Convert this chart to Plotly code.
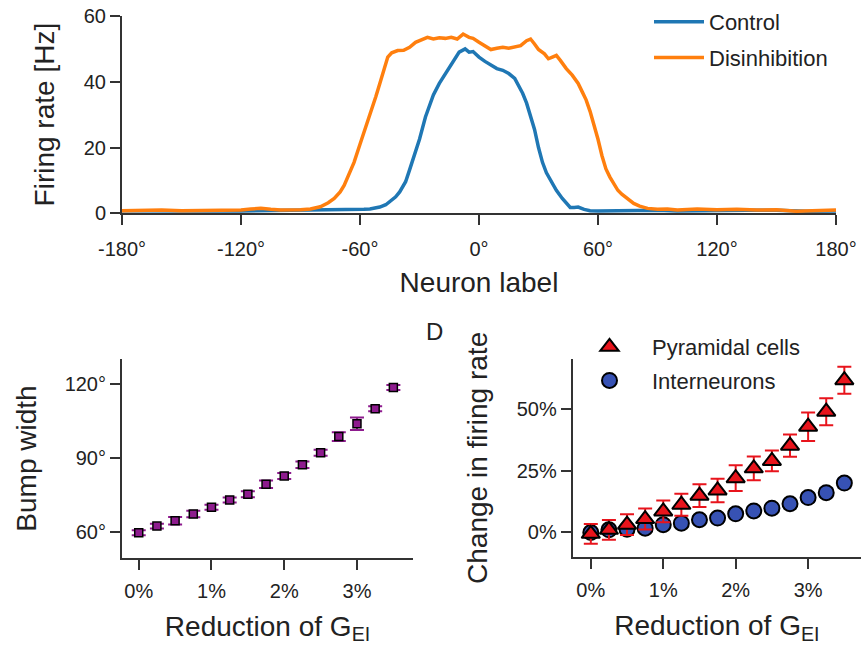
import plotly.graph_objects as go

# ---------------- Data ----------------
# Panel A: firing rate vs neuron label (degrees)
control_deg = [-180, -165, -150, -135, -120, -105, -90, -80, -70, -62, -58, -55, -52, -50, -47, -45,
               -42, -40, -37, -35, -32, -30, -27, -25, -23, -20, -18, -15, -13, -10, -7, -5,
               -3, 0, 3, 6, 9, 12, 15, 18, 20, 22, 24, 26, 28, 30, 32, 34, 36, 39, 42, 44,
               46, 48, 50, 53, 56, 60, 70, 80, 90, 100, 110, 120, 135, 150, 165, 180]
control_rate = [0.8, 0.7, 0.8, 0.7, 0.7, 0.8, 0.8, 0.9, 0.9, 1.1, 1.2, 1.3, 1.6, 1.9, 2.6, 3.5,
                5.0, 6.5, 9.6, 13.2, 18.8, 22.5, 29.3, 32.5, 36.0, 39.5, 41.5, 44.5, 46.5, 49.0, 50.0, 49.0,
                49.2, 47.5, 46.2, 45.0, 44.0, 43.5, 42.5, 41.0, 39.0, 36.5, 33.5, 29.5, 25.5, 20.0, 15.5, 12.3,
                10.0, 7.0, 4.5, 3.0, 1.8, 1.8, 1.9, 1.2, 0.8, 0.7, 0.8, 0.8, 0.9, 0.7, 0.8, 0.8, 0.9, 0.9,
                0.6, 0.7]

disinh_deg = [-180, -170, -160, -150, -140, -130, -120, -115, -110, -105, -100, -90, -85, -80, -76, -73,
              -70, -68, -65, -63, -60, -58, -55, -52, -50, -48, -46, -44, -41, -38, -35, -32,
              -29, -26, -23, -20, -17, -14, -11, -8, -5, -3, 0, 3, 6, 9, 12, 15,
              18, 21, 24, 26, 28, 30, 33, 35, 37, 39, 41, 44, 47, 50, 52, 54,
              56, 58, 60, 62, 64, 66, 68, 70, 72, 75, 78, 81, 85, 90, 95, 100,
              110, 120, 130, 140, 150, 160, 170, 180]
disinh_rate = [0.8, 0.9, 1.0, 0.8, 0.8, 0.9, 1.0, 1.3, 1.5, 1.2, 1.0, 1.1, 1.3, 2.0, 3.2, 4.5,
               6.5, 8.5, 12.5, 15.5, 21.0, 24.5, 30.0, 35.5, 39.5, 44.0, 47.5, 48.8, 49.5, 49.6, 50.5, 52.0,
               52.8, 53.5, 53.0, 53.4, 53.2, 53.5, 53.0, 54.5, 53.5, 53.2, 52.0, 51.0, 49.8, 50.2, 50.5, 50.2,
               50.6, 51.0, 52.5, 53.0, 51.5, 49.8, 48.5, 47.0, 47.5, 48.0, 46.5, 44.0, 42.0, 39.5, 37.0, 34.5,
               31.0, 27.0, 22.5, 17.5, 13.5, 11.0, 9.0, 7.0, 5.8, 4.3, 3.0, 2.2, 1.5, 1.2, 1.3, 1.0,
               1.3, 1.1, 1.2, 1.0, 1.1, 0.6, 0.8, 1.0]

# Panels C and D: reduction of G_EI (%)
reduction = [0.0, 0.25, 0.5, 0.75, 1.0, 1.25, 1.5, 1.75, 2.0, 2.25, 2.5, 2.75, 3.0, 3.25, 3.5]

bump_width = [59.7, 62.4, 64.6, 67.3, 70.0, 73.0, 75.3, 79.3, 82.7, 87.2, 92.1, 98.6, 103.8, 109.9, 118.5]
bump_err = [1.0, 1.0, 1.5, 1.3, 1.0, 1.0, 1.2, 1.5, 1.2, 1.3, 1.2, 1.8, 2.5, 1.0, 1.0]

pyr_change = [-0.7, 0.9, 3.0, 5.3, 8.4, 11.1, 14.8, 16.9, 21.9, 25.9, 28.9, 35.1, 42.8, 48.9, 61.7]
pyr_err = [4.0, 4.0, 4.2, 4.3, 4.4, 4.5, 4.6, 4.8, 5.2, 4.8, 4.2, 4.5, 5.8, 5.5, 5.5]

int_change = [-0.2, 0.9, 1.2, 1.6, 3.0, 3.6, 5.0, 5.7, 7.4, 8.6, 9.7, 11.5, 14.0, 16.0, 19.9]
int_err = [1.5, 1.5, 1.5, 1.5, 1.5, 1.5, 1.5, 1.5, 1.5, 1.5, 1.5, 1.5, 1.8, 1.8, 1.8]

deg_ticks = [-180, -120, -60, 0, 60, 120, 180]
deg_labels = ["-180°", "-120°", "-60°", "0°", "60°", "120°", "180°"]
rate_ticks = [0, 20, 40, 60]
pct_ticks = [0, 1, 2, 3]
pct_labels = ["0%", "1%", "2%", "3%"]
bump_ticks = [60, 90, 120]
bump_labels = ["60°", "90°", "120°"]
change_ticks = [0, 25, 50]
change_labels = ["0%", "25%", "50%"]

# ---------------- Figure ----------------
W, H = 861, 646
FONT = "Liberation Sans, Arial, sans-serif"
TXT = "#222222"
BLUE = "#1f77b4"
ORANGE = "#ff7f0e"
PURPLE = "#8e1b8e"
RED = "#e8141c"
IBLUE = "#3752b4"


def px_x(p):
    return p / W


def px_y(p):
    return 1 - p / H


fig = go.Figure()

fig.add_trace(go.Scatter(x=control_deg, y=control_rate, mode="lines", name="Control",
                         line=dict(color=BLUE, width=3.5), xaxis="x", yaxis="y",
                         legend="legend", legendgroup="c", legendrank=1))
fig.add_trace(go.Scatter(x=disinh_deg, y=disinh_rate, mode="lines", name="Disinhibition",
                         line=dict(color=ORANGE, width=3.5), xaxis="x", yaxis="y",
                         legend="legend", legendgroup="d", legendrank=2))

fig.add_trace(go.Scatter(x=reduction, y=bump_width, mode="markers", showlegend=False,
                         marker=dict(symbol="square", size=8, color=PURPLE,
                                     line=dict(color="black", width=1.5)),
                         error_y=dict(type="data", array=bump_err, color=PURPLE, thickness=2, width=7),
                         xaxis="x2", yaxis="y2"))

fig.add_trace(go.Scatter(x=reduction, y=int_change, mode="markers", name="Interneurons",
                         marker=dict(symbol="circle", size=15, color=IBLUE,
                                     line=dict(color="black", width=2)),
                         error_y=dict(type="data", array=int_err, color=IBLUE, thickness=2, width=7),
                         xaxis="x3", yaxis="y3", legend="legend2", legendgroup="i", legendrank=2))
fig.add_trace(go.Scatter(x=reduction, y=pyr_change, mode="markers", name="Pyramidal cells",
                         marker=dict(symbol="triangle-up", size=16, color=RED,
                                     line=dict(color="black", width=2)),
                         error_y=dict(type="data", array=pyr_err, color=RED, thickness=2, width=7),
                         xaxis="x3", yaxis="y3", legend="legend2", legendgroup="p", legendrank=1))

axis_common = dict(showline=True, linecolor="#333333", linewidth=2, ticks="outside",
                   ticklen=10, tickwidth=1.5, tickcolor="#333333", showgrid=False, zeroline=False,
                   tickfont=dict(family=FONT, size=20, color=TXT), mirror=False, automargin=False)
title_font = dict(family=FONT, size=28, color=TXT)

fig.update_layout(
    width=W, height=H, margin=dict(l=0, r=0, t=0, b=0, autoexpand=False),
    paper_bgcolor="white", plot_bgcolor="white",
    font=dict(family=FONT, color=TXT),
    xaxis=dict(axis_common, domain=[px_x(122), px_x(836)], range=[-180, 180],
               tickvals=deg_ticks, ticktext=deg_labels, anchor="y", ticklabelstandoff=7,
               title=dict(text="Neuron label", font=title_font, standoff=13)),
    yaxis=dict(axis_common, domain=[px_y(213.3), px_y(16)], range=[0, 60],
               tickvals=rate_ticks, anchor="x",
               title=dict(text="Firing rate [Hz]", font=title_font, standoff=21)),
    xaxis2=dict(axis_common, domain=[px_x(122), px_x(413)], range=[-0.23, 3.77],
                tickvals=pct_ticks, ticktext=pct_labels, anchor="y2", ticklabelstandoff=4,
                title=dict(text="Reduction of G<sub>EI</sub>", font=title_font, standoff=15)),
    yaxis2=dict(axis_common, domain=[px_y(558), px_y(359)], range=[49.5, 130],
                tickvals=bump_ticks, ticktext=bump_labels, anchor="x2",
                title=dict(text="Bump width", font=title_font, standoff=20)),
    xaxis3=dict(axis_common, domain=[px_x(572.7), 1.0], range=[-0.25, 3.73],
                tickvals=pct_ticks, ticktext=pct_labels, anchor="y3", ticklabelstandoff=4,
                title=dict(text="Reduction of G<sub>EI</sub>", font=title_font, standoff=16)),
    yaxis3=dict(axis_common, domain=[px_y(556.7), px_y(359)], range=[-10, 70.3],
                tickvals=change_ticks, ticktext=change_labels, anchor="x3",
                title=dict(text="Change in firing rate", font=title_font, standoff=21)),
    legend=dict(x=px_x(649), y=px_y(1), xanchor="left", yanchor="top",
                font=dict(family=FONT, size=22, color=TXT), bgcolor="rgba(0,0,0,0)",
                itemwidth=50, traceorder="grouped", tracegroupgap=4),
    legend2=dict(x=px_x(567), y=px_y(326), xanchor="left", yanchor="top",
                 font=dict(family=FONT, size=22, color=TXT), bgcolor="rgba(0,0,0,0)",
                 itemwidth=75, traceorder="grouped", tracegroupgap=2),
    annotations=[dict(text="D", x=px_x(435), y=px_y(331), xref="paper", yref="paper",
                      showarrow=False, font=dict(family=FONT, size=24, color=TXT))],
)

fig.write_html("out.html", config={"displayModeBar": False},
               post_script="document.body.style.margin='0';")
